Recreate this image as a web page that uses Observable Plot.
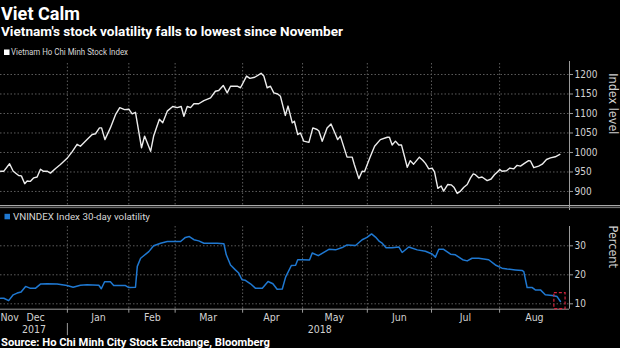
<!DOCTYPE html>
<html><head><meta charset="utf-8">
<script src="https://cdn.jsdelivr.net/npm/d3@7"></script>
<script src="https://cdn.jsdelivr.net/npm/@observablehq/plot@0.6"></script>
<style>
html,body{margin:0;padding:0;background:#000;}
#root{position:relative;width:620px;height:348px;overflow:hidden;background:#000;}
</style></head>
<body><div id="root">
<svg id="ov" width="620" height="348" style="position:absolute;left:0;top:0;z-index:2;pointer-events:none;font-family:Roboto,'Liberation Sans',sans-serif">
<text x="1" y="19.5" font-size="18" font-weight="700" fill="#ffffff" textLength="79" lengthAdjust="spacingAndGlyphs">Viet Calm</text>
<text x="1" y="36" font-size="13.5" font-weight="700" fill="#ffffff" textLength="342" lengthAdjust="spacingAndGlyphs">Vietnam's stock volatility falls to lowest since November</text>
<rect x="4" y="49.5" width="5.5" height="5.5" fill="#ffffff"></rect>
<text x="11" y="55.2" font-size="9.5" fill="#d6d6d6" textLength="117" lengthAdjust="spacingAndGlyphs">Vietnam Ho Chi Minh Stock Index</text>
<line x1="0" x2="620" y1="205.6" y2="205.6" stroke="#a8a8a8" stroke-width="1.4"></line>
<line x1="0" x2="620" y1="207.6" y2="207.6" stroke="#7a7a7a" stroke-width="1"></line>
<rect x="4.5" y="213.8" width="5.5" height="5.5" fill="#1f78d1"></rect>
<text x="13" y="220" font-size="9.5" fill="#d6d6d6" textLength="137" lengthAdjust="spacingAndGlyphs">VNINDEX Index 30-day volatility</text>
<text x="1" y="345.5" font-size="10.5" font-weight="700" fill="#ffffff" textLength="269" lengthAdjust="spacingAndGlyphs">Source: Ho Chi Minh City Stock Exchange, Bloomberg</text>
</svg>
</div>
<script>
// x positions are trading-day indices counted from the first session shown (late Nov 2017)
const indexDay = [0.0,1.1,3.0,4.2,6.0,6.9,8.0,8.8,9.9,11.0,12.1,13.2,14.1,15.4,16.5,18.2,19.8,22.0,23.7,25.3,26.4,28.6,30.3,31.4,32.7,33.4,34.5,36.3,38.0,39.4,41.0,42.4,43.5,44.6,46.6,47.6,49.6,50.6,52.5,53.6,55.1,56.9,58.4,59.7,60.6,61.7,62.8,63.9,65.5,67.2,69.4,71.0,72.1,73.6,74.9,76.0,78.2,79.3,81.3,82.4,84.0,86.1,87.0,88.1,89.2,90.3,91.6,92.5,94.1,95.0,96.4,97.1,98.2,99.1,100.2,101.9,103.2,104.6,105.2,106.3,107.9,109.2,110.7,111.4,112.3,114.5,116.2,116.9,118.4,119.5,120.3,122.0,123.6,125.5,127.8,128.5,129.4,130.5,131.6,132.5,134.4,135.4,136.5,138.4,139.5,140.4,141.5,142.6,143.4,144.5,145.6,146.4,147.8,148.9,149.8,150.9,152.0,153.1,154.2,155.3,156.2,156.9,158.0,159.1,160.8,162.1,163.2,165.0,165.7,167.2,168.3,169.6,170.7,171.8,173.1,174.5,175.1,176.2,177.8,179.0,180.4,181.7,183.3,184.8];
const indexLevel = [952,952,971,952,941,940,920,927,926,935,937,957,952,952,947,959,969,985,1002,1021,1016,1033,1046,1048,1063,1063,1033,1063,1097,1115,1110,1111,1099,1103,1012,1042,1003,1042,1085,1076,1106,1118,1115,1118,1093,1118,1115,1125,1125,1133,1140,1157,1159,1172,1153,1170,1170,1166,1196,1190,1193,1203,1196,1166,1170,1153,1150,1144,1095,1119,1076,1080,1046,1050,1029,1026,1063,1059,1055,1029,1063,1073,1046,1033,1042,988,988,969,933,952,951,986,1016,1033,1039,1039,1019,1029,1019,1019,962,979,970,988,980,972,958,960,950,908,914,901,918,917,911,895,901,911,918,935,945,943,935,937,928,932,943,956,952,953,960,958,967,965,972,979,978,961,965,970,982,986,989,995];

const volDay = [0.0,1.1,2.7,4.2,5.5,6.8,8.3,9.7,11.6,13.2,15.4,18.7,22.0,24.0,26.4,28.6,32.5,33.3,34.4,36.3,37.4,41.3,42.4,44.6,45.2,46.3,49.0,50.6,52.9,55.1,59.5,61.1,62.4,63.9,65.5,67.2,71.6,73.8,74.6,76.0,77.6,78.7,79.8,80.9,82.6,84.2,86.5,88.4,90.0,91.4,93.1,94.2,96.1,97.5,98.2,99.7,102.1,103.0,105.0,108.5,110.7,112.9,114.5,117.3,119.5,121.1,122.6,123.9,125.2,126.1,127.4,129.4,131.6,132.7,134.9,137.7,140.4,142.6,143.7,144.8,146.4,148.7,150.3,152.7,154.2,155.8,158.0,161.3,163.5,165.7,167.4,170.1,172.3,172.9,174.0,175.7,176.7,178.4,180.0,182.3,183.9,185.0];
const volPct = [11.9,11.9,11.1,13.1,13.7,14.1,16.0,15.4,15.4,16.8,16.9,16.8,16.3,15.7,16.4,16.6,16.4,15.2,17.6,17.6,16.3,16.3,15.6,15.7,22.9,25.7,28.0,30.0,30.9,31.5,31.5,32.9,33.2,32.1,31.7,30.9,30.9,30.7,26.9,23.4,21.7,20.6,18.3,18.1,16.9,15.4,15.4,17.7,16.9,15.0,15.1,19.2,23.2,23.3,25.2,25.2,25.1,27.5,26.6,28.8,28.6,29.4,30.3,30.1,32.1,32.9,34.1,33.0,31.5,30.9,29.3,29.3,29.6,27.7,29.6,28.6,28.1,27.2,26.1,28.8,28.8,27.1,26.9,25.2,24.8,25.7,25.7,25.2,23.4,22.3,22.0,21.7,21.5,21.1,15.6,15.6,14.8,14.8,13.1,12.9,12.5,10.8];

// month boundaries (first session of Jan..Aug) and label centres, in trading-day index
const monthBounds = [22.1, 42.4, 57.7, 80.0, 99.8, 121.2, 142.4, 164.9];
const monthNames = ["Nov","Dec","Jan","Feb","Mar","Apr","May","Jun","Jul","Aug"];
const monthCenters = [0, 11.6, 32.4, 50.2, 68.6, 89.5, 110.3, 131.8, 153.6, 176.4];
const yearNames = ["2017","2018"];
const yearCenters = [11.1, 105.5];
const indexTicks = [900,950,1000,1050,1100,1150,1200];
const volTicks = [10,20,30];
const calmBox = [{x1:183.0, x2:186.7, y1:8.2, y2:13.7}];

const xDomain = [0, 188];
const indexDomain = [864, 1228.2];
const volDomain = [8.14, 36.66];

const FONT = "'Liberation Sans Narrow','DejaVu Sans Condensed',Roboto,sans-serif";
const gridStyle = {stroke:"#5c5c5c", strokeOpacity:1, strokeDasharray:"1.5,2", strokeWidth:1};
const axisGrey = "#9a9a9a";
const baseStyle = {background:"transparent", color:"#d2d2d2", fontFamily:FONT, fontSize:"10px", overflow:"visible"};

const root = document.getElementById("root");
function place(node, top){
  node.style.position = "absolute"; node.style.left = "0px"; node.style.top = top + "px"; node.style.zIndex = "1";
  root.appendChild(node);
}

const topChart = Plot.plot({
  width:620, height:162, marginTop:18, marginBottom:2, marginLeft:0, marginRight:51,
  style: baseStyle,
  x:{domain:xDomain, axis:null},
  y:{domain:indexDomain, axis:null},
  marks:[
    Plot.gridY(indexTicks, gridStyle),
    Plot.gridX(monthBounds, gridStyle),
    Plot.ruleX([xDomain[1]], {stroke:axisGrey, insetTop:-2, insetBottom:-5}),
    Plot.axisY(indexTicks, {anchor:"right", tickSize:3, tickPadding:2, stroke:axisGrey, label:null, tickFormat:d => String(d)}),
    Plot.line(indexDay, {x:indexDay, y:indexLevel, stroke:"#ececec", strokeWidth:1.4}),
    Plot.text(["Index level"], {frameAnchor:"right", dx:43, rotate:90, fontSize:12.5, fill:"#cfcfcf"})
  ]
});
place(topChart, 45);

const botChart = Plot.plot({
  width:620, height:138, marginTop:16, marginBottom:39.3, marginLeft:0, marginRight:51,
  style: baseStyle,
  x:{domain:xDomain, axis:null},
  y:{domain:volDomain, axis:null},
  marks:[
    Plot.gridY(volTicks, gridStyle),
    Plot.gridX(monthBounds, gridStyle),
    Plot.ruleY([volDomain[0]], {stroke:axisGrey}),
    Plot.ruleX([xDomain[1]], {stroke:axisGrey}),
    Plot.axisX(monthBounds, {anchor:"bottom", tickSize:4, tickFormat:() => "", stroke:axisGrey}),
    Plot.ruleX([monthBounds[0]], {stroke:axisGrey, insetTop:97, insetBottom:-26.5}),
    Plot.axisY(volTicks, {anchor:"right", tickSize:3, tickPadding:2, stroke:axisGrey, label:null, tickFormat:d => String(d)}),
    Plot.line(volDay, {x:volDay, y:volPct, stroke:"#1f78d1", strokeWidth:1.5}),
    Plot.rect(calmBox, {x1:"x1", x2:"x2", y1:"y1", y2:"y2", fill:"none", stroke:"#d2233c", strokeWidth:1.2, strokeDasharray:"3,2"}),
    Plot.text(monthNames.slice(0,1), {x:monthCenters.slice(0,1), text:d => d, frameAnchor:"bottom", lineAnchor:"bottom", dy:11.3, textAnchor:"start", fontSize:10.5}),
    Plot.text(monthNames.slice(1), {x:monthCenters.slice(1), text:d => d, frameAnchor:"bottom", lineAnchor:"bottom", dy:11.3, fontSize:10.5}),
    Plot.text(yearNames, {x:yearCenters, text:d => d, frameAnchor:"bottom", lineAnchor:"bottom", dy:24, fontSize:10.5}),
    Plot.text(["Percent"], {frameAnchor:"right", dx:43, rotate:90, fontSize:12.5, fill:"#cfcfcf"})
  ]
});
place(botChart, 210);
</script>
</body></html>
